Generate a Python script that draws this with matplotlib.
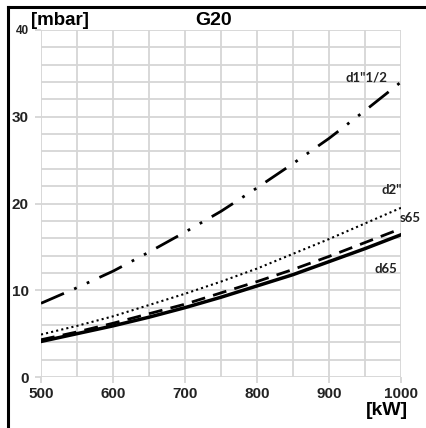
import numpy as np
import matplotlib
matplotlib.use('Agg')
import matplotlib.pyplot as plt
from matplotlib.lines import Line2D

plt.rcParams['font.family'] = ['Liberation Sans', 'DejaVu Sans']

# power [kW] and pressure drop [mbar]
power = [500, 550, 600, 650, 700, 750, 800, 850, 900, 950, 1000]
d1_12 = [8.5, 10.3, 12.2, 14.4, 16.7, 19.1, 21.8, 24.6, 27.5, 30.7, 34.0]
d2 = [4.9, 5.9, 7.0, 8.3, 9.6, 11.0, 12.5, 14.2, 15.9, 17.7, 19.5]
s65 = [4.3, 5.2, 6.2, 7.3, 8.4, 9.7, 11.0, 12.4, 13.9, 15.5, 17.1]
d65 = [4.1, 5.0, 5.9, 6.9, 8.0, 9.2, 10.5, 11.8, 13.3, 14.8, 16.4]

fig = plt.figure(figsize=(4.27, 4.28), dpi=100)
ax = fig.add_axes([0.096, 0.119, 0.843, 0.811])

ax.plot(power, d1_12, color='black', lw=2.0, linestyle=(0, (9, 4, 1, 4, 1, 4)), zorder=3)
ax.plot(power, d2, color='black', lw=1.5, linestyle=(0, (1, 1.5)), zorder=3)
ax.plot(power, s65, color='black', lw=2.0, linestyle=(0, (5, 3)), zorder=3)
ax.plot(power, d65, color='black', lw=2.5, zorder=4)

ax.set_xlim(500, 1000)
ax.set_ylim(0, 40)
ax.set_xticks(range(500, 1001, 100))
ax.set_xticks(range(500, 1001, 50), minor=True)
ax.set_yticks(range(0, 41, 10))
ax.set_yticks(range(0, 41, 2), minor=True)
ax.grid(which='both', color='#d6d6d6', lw=1.3, zorder=0)
for s in ax.spines.values():
    s.set_visible(False)
ax.tick_params(which='major', length=4.3, width=1.3, color='#d6d6d6')
ax.tick_params(axis='y', which='major', pad=4.5)
ax.tick_params(axis='x', which='major', pad=3)
ax.tick_params(which='minor', length=0)
ax.set_xticklabels([str(v) for v in range(500, 1001, 100)], fontsize=11, fontweight='bold', color='#222222')
ax.set_yticklabels(['0', '10', '20', '30', '40'], fontsize=11, fontweight='bold', color='#222222')
ax.get_yticklabels()[-1].set_fontsize(8.5)

lab = dict(fontsize=9.5, fontweight='bold', family=['Lato', 'DejaVu Sans'], color='#222222')
ax.text(0.961, 0.862, 'd1"1/2', transform=ax.transAxes, ha='right', va='center', **lab)
ax.text(1.003, 0.539, 'd2"', transform=ax.transAxes, ha='right', va='center', **lab)
ax.text(0.997, 0.458, 's65', transform=ax.transAxes, ha='left', va='center', **lab)
ax.text(0.989, 0.311, 'd65', transform=ax.transAxes, ha='right', va='center', **lab)

fig.text(0.499, 0.953, 'G20', ha='center', va='center', fontsize=14, fontweight='bold')
fig.text(0.073, 0.951, '[mbar]', ha='left', va='center', fontsize=13.5, fontweight='bold')
fig.text(0.955, 0.040, '[kW]', ha='right', va='center', fontsize=14, fontweight='bold')

# frame lines at the left and top edges
fig.add_artist(Line2D([0.019, 0.019], [0.0, 0.984], color='black', lw=2.2, transform=fig.transFigure))
fig.add_artist(Line2D([0.019, 1.0], [0.984, 0.984], color='black', lw=2.2, transform=fig.transFigure))

fig.savefig('out.png', dpi=100)
